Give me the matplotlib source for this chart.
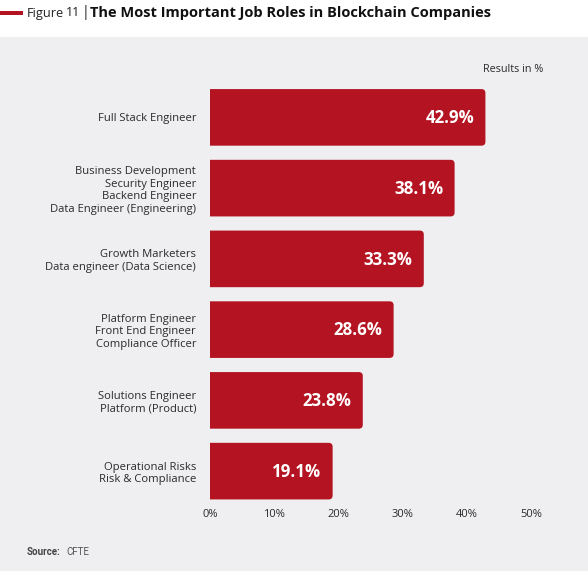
import matplotlib
matplotlib.use("Agg")
import matplotlib.pyplot as plt
from matplotlib.patches import FancyBboxPatch, Rectangle

categories = [
    "Full Stack Engineer",
    "Business Development\nSecurity Engineer\nBackend Engineer\nData Engineer (Engineering)",
    "Growth Marketers\nData engineer (Data Science)",
    "Platform Engineer\nFront End Engineer\nCompliance Officer",
    "Solutions Engineer\nPlatform (Product)",
    "Operational Risks\nRisk & Compliance",
]
values = [42.9, 38.1, 33.3, 28.6, 23.8, 19.1]
xticks = [0, 10, 20, 30, 40, 50]
xtick_labels = ["0%", "10%", "20%", "30%", "40%", "50%"]

BAR = "#b41321"
BG = "#efeef0"
TXT = "#2b2b2b"
FONT = ["Open Sans", "DejaVu Sans"]
plt.rcParams["font.family"] = FONT

W, H = 588, 571
fig = plt.figure(figsize=(W / 100, H / 100), dpi=100, facecolor="white")

# gray panel
fig.patches.append(Rectangle((0, 0), 1, 1 - 37 / H, transform=fig.transFigure,
                             facecolor=BG, edgecolor="none", zorder=-10))

left = 210 / W
right = 531 / W
top = 1 - 82 / H
bottom = 1 - 506.5 / H
ax = fig.add_axes([left, bottom, right - left, top - bottom])
ax.set_facecolor("none")
ax.set_xlim(0, 50)
ax.set_ylim(5.5, -0.5)

bh = 0.8
px_x = (right - left) * W / 50.0      # px per x unit
px_y = (top - bottom) * H / 6.0       # px per y unit
r_px = 4.0
r_x = r_px / px_x
aspect = (r_px / px_y) / r_x
ext = 3 * r_x  # extend left beyond 0 so left corners are clipped away

for i, v in enumerate(values):
    p = FancyBboxPatch((-ext, i - bh / 2), v + ext, bh,
                       boxstyle=f"round,pad=0,rounding_size={r_x}",
                       mutation_aspect=aspect, facecolor=BAR, edgecolor="none", zorder=2)
    ax.add_patch(p)
    ax.annotate(f"{v}%", xy=(v, i), xytext=(-8, -0.5), textcoords="offset points",
                ha="right", va="center", color="white", fontsize=12.2,
                fontweight="bold", zorder=3)

ax.set_yticks(range(len(categories)))
ax.set_yticklabels(categories, fontsize=8.1, color=TXT, linespacing=1.18)
ax.set_xticks(xticks)
ax.set_xticklabels(xtick_labels, fontsize=8, color=TXT)
ax.tick_params(axis="both", length=0)
ax.tick_params(axis="y", pad=10)
ax.tick_params(axis="x", pad=2)
for s in ax.spines.values():
    s.set_visible(False)

# title
fig.patches.append(Rectangle((0, 1 - 14.5 / H), 23 / W, 3.5 / H, transform=fig.transFigure,
                             facecolor=BAR, edgecolor="none"))
fig.text(27 / W, 1 - 13 / H, "Figure", fontsize=9.2, color="#222222",
         va="center", ha="left")
fig.text(66 / W, 1 - 13 / H, "11", fontsize=9, color="#222222",
         va="center", ha="left")
fig.text(82 / W, 1 - 13 / H, "|", fontsize=10, color="#222222",
         va="center", ha="left")
fig.text(90 / W, 1 - 13 / H, "The Most Important Job Roles in Blockchain Companies",
         fontsize=10.5, fontweight="bold", color="#111111", va="center", ha="left")

fig.text(543 / W, 1 - 70 / H, "Results in %", fontsize=7.8, color=TXT,
         va="center", ha="right")

fig.text(27 / W, 1 - 552 / H, "Source:", fontsize=7, fontweight="bold",
         color="#444444", va="center", ha="left", family=["Roboto", "DejaVu Sans"])
fig.text(66 / W, 1 - 552 / H, "CFTE", fontsize=7, color="#555555",
         va="center", ha="left", family=["Roboto", "DejaVu Sans"])

fig.savefig("out.png", dpi=100, facecolor="white")
